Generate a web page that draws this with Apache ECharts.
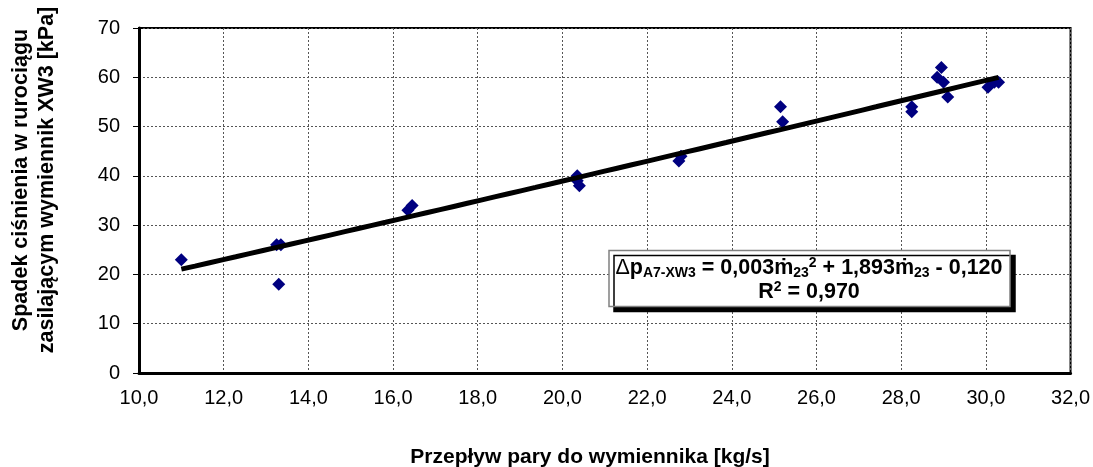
<!DOCTYPE html>
<html>
<head>
<meta charset="utf-8">
<script src="https://cdn.jsdelivr.net/npm/echarts@6/dist/echarts.min.js"></script>
<style>
  html, body { margin: 0; padding: 0; background: #fff; }
  #chart { width: 1093px; height: 467px; }
</style>
</head>
<body>
<div id="chart"></div>
<script>
// Steam flow to the exchanger [kg/s] and measured pressure drop [kPa]
const flow = [11.0, 13.25, 13.35, 13.3, 16.35, 16.45, 20.35, 20.35, 20.4, 22.75, 22.8,
              25.15, 25.2, 28.25, 28.25, 28.85, 28.95, 29.0, 29.1, 30.05, 30.2, 30.3];
const dropKPa = [23, 26, 26, 18, 33, 34, 40, 39, 38, 43, 44,
                 54, 51, 54, 53, 60, 62, 59, 56, 58, 59, 59];

// Second-order trend: dp = a*m^2 + b*m + c
const trendCoef = [0.003, 1.893, -0.120];
const rSquared = '0,970';

const xTicks = { min: 10, max: 32, step: 2 };
const yTicks = { min: 0, max: 70, step: 10 };

const FONT = 'Arial, "Liberation Sans", "DejaVu Sans", sans-serif';

const points = flow.map((m, i) => [m, dropKPa[i]]);

const mMin = Math.min(...flow), mMax = Math.max(...flow);
const trend = [];
for (let k = 0; k <= 60; k++) {
  const m = mMin + (mMax - mMin) * k / 60;
  trend.push([m, trendCoef[0] * m * m + trendCoef[1] * m + trendCoef[2]]);
}

const fmt = v => v.toFixed(3).replace('.', ',');
const eqText =
  '{d|\u0394}{b|p}{sub|A7-XW3}{b| = ' + fmt(trendCoef[0]) + '\u1E41}{sub|23}{sup|2}' +
  '{b| + ' + fmt(trendCoef[1]) + '\u1E41}{sub|23}{b| - ' + fmt(Math.abs(trendCoef[2])) + '}\n' +
  '{b|R}{sup|2}{b| = ' + rSquared + '}';

const chart = echarts.init(document.getElementById('chart'), null, { renderer: 'canvas' });

chart.setOption({
  animation: false,
  backgroundColor: '#fff',
  grid: {
    left: 139, right: 22, top: 28, bottom: 94,
    show: true, borderColor: '#000', borderWidth: 2, backgroundColor: 'transparent'
  },
  xAxis: {
    type: 'value',
    min: xTicks.min, max: xTicks.max, interval: xTicks.step,
    axisLine: { show: true, onZero: false, lineStyle: { color: '#000', width: 3 } },
    axisTick: { show: false },
    axisLabel: {
      color: '#000', fontFamily: FONT, fontSize: 20, margin: 15,
      formatter: v => v.toFixed(1).replace('.', ',')
    },
    splitLine: { show: true, lineStyle: { color: '#555', width: 1, type: [2, 2] } }
  },
  yAxis: {
    type: 'value',
    min: yTicks.min, max: yTicks.max, interval: yTicks.step,
    axisLine: { show: true, onZero: false, lineStyle: { color: '#000', width: 3 } },
    axisTick: { show: true, inside: false, length: 6, lineStyle: { color: '#000', width: 1 } },
    axisLabel: { color: '#000', fontFamily: FONT, fontSize: 20, margin: 19 },
    splitLine: { show: true, lineStyle: { color: '#555', width: 1, type: [2, 2] } }
  },
  series: [
    {
      type: 'scatter',
      data: points,
      symbol: 'diamond',
      symbolSize: 13,
      itemStyle: { color: '#000080', opacity: 1 },
      z: 2
    },
    {
      type: 'line',
      data: trend,
      showSymbol: false,
      smooth: false,
      lineStyle: { color: '#000', width: 5 },
      z: 3
    }
  ],
  graphic: [
    {
      type: 'text',
      x: 34, y: 180,
      rotation: Math.PI / 2,
      style: {
        text: 'Spadek ciśnienia w rurociągu\nzasilającym wymiennik XW3 [kPa]',
        font: 'bold 21.5px ' + FONT,
        fill: '#000',
        lineHeight: 26,
        align: 'center', textAlign: 'center',
        verticalAlign: 'middle', textVerticalAlign: 'middle'
      }
    },
    {
      type: 'text',
      x: 590, y: 457,
      style: {
        text: 'Przepływ pary do wymiennika [kg/s]',
        font: 'bold 21px ' + FONT,
        fill: '#000',
        align: 'center', textAlign: 'center',
        verticalAlign: 'middle', textVerticalAlign: 'middle'
      }
    },
    {
      type: 'rect',
      z: 10,
      shape: { x: 609, y: 250.5, width: 401, height: 56 },
      style: {
        fill: '#fff', stroke: '#808080', lineWidth: 1.5,
        shadowColor: '#000', shadowOffsetX: 5, shadowOffsetY: 5, shadowBlur: 0.01
      }
    },
    {
      type: 'text',
      z: 11,
      x: 809, y: 280,
      style: {
        text: eqText,
        align: 'center', textAlign: 'center',
        verticalAlign: 'middle', textVerticalAlign: 'middle',
        fill: '#000',
        rich: {
          d: { fontFamily: FONT, fontSize: 21.5, fontWeight: 'normal', lineHeight: 24, verticalAlign: 'middle', fill: '#000', color: '#000' },
          b: { fontFamily: FONT, fontSize: 21.5, fontWeight: 'bold', lineHeight: 24, verticalAlign: 'middle', fill: '#000', color: '#000' },
          sub: { fontFamily: FONT, fontSize: 14, fontWeight: 'bold', lineHeight: 13, verticalAlign: 'bottom', fill: '#000', color: '#000' },
          sup: { fontFamily: FONT, fontSize: 14, fontWeight: 'bold', lineHeight: 13, verticalAlign: 'top', fill: '#000', color: '#000' }
        }
      }
    }
  ]
});
</script>
</body>
</html>
